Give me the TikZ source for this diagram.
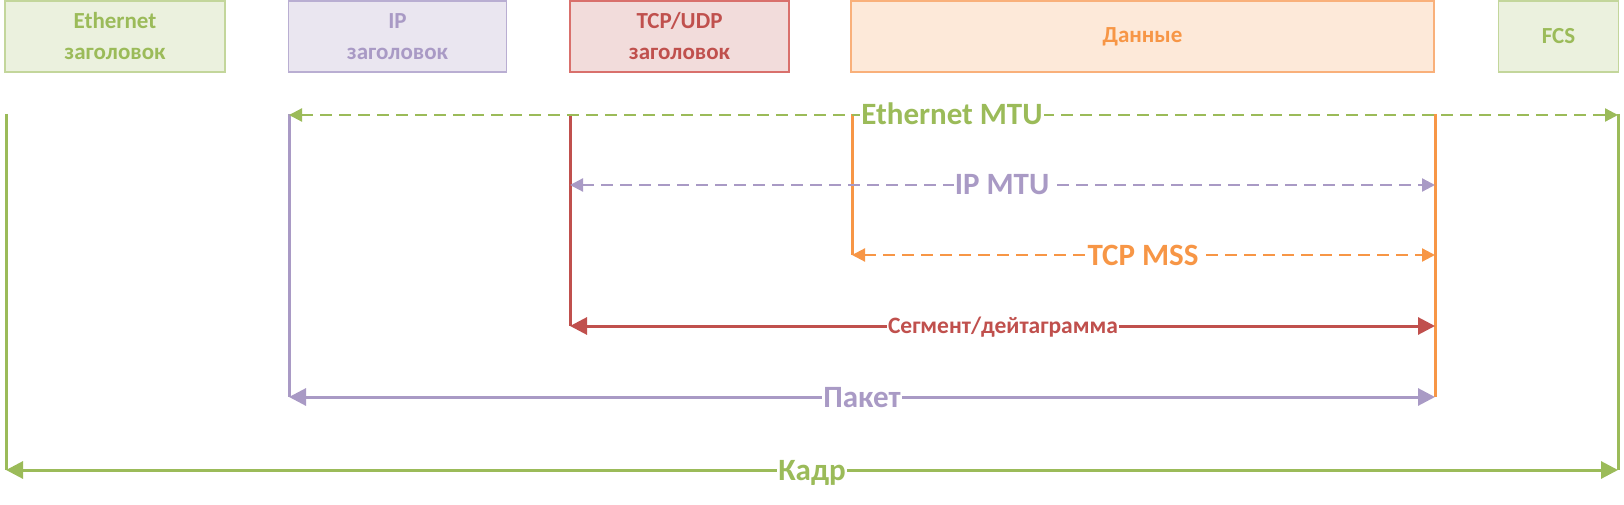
\documentclass[tikz,border=0pt]{standalone}
\usepackage{fontspec}
\setmainfont{Carlito}
\usetikzlibrary{arrows.meta}
\definecolor{cgreen}{HTML}{9BBB59}
\definecolor{cpurple}{HTML}{A99AC5}
\definecolor{cred}{HTML}{C0504D}
\definecolor{corange}{HTML}{F79646}
\definecolor{fgreen}{HTML}{EBF1DE}
\definecolor{fpurple}{HTML}{EAE6F0}
\definecolor{fred}{HTML}{F2DCDB}
\definecolor{forange}{HTML}{FDE9D9}
\definecolor{bgreen}{HTML}{C3D69B}
\definecolor{bpurple}{HTML}{B9AED2}
\definecolor{bred}{HTML}{D9706C}
\definecolor{borange}{HTML}{F9B07A}
\tikzset{
  hdrbox/.style={draw, line width=1.2pt, minimum height=71pt, inner sep=0pt, align=center,
    font=\fontsize{23}{31}\selectfont\bfseries},
  vline/.style={line width=3pt},
  solidarr/.style={line width=3pt, {Triangle[length=17pt,width=17pt]}-{Triangle[length=17pt,width=17pt]}},
  dasharr/.style={line width=2.2pt, dash pattern=on 12pt off 7pt, {Triangle[length=13pt,width=13pt]}-{Triangle[length=13pt,width=13pt]}},
  biglab/.style={fill=white, inner xsep=1pt, inner ysep=0pt, text height=20pt, text depth=0pt,
    font=\fontsize{31}{31}\selectfont\bfseries},
  smalllab/.style={fill=white, inner xsep=1pt, inner ysep=0pt, text height=15pt, text depth=0pt,
    font=\fontsize{23.5}{24}\selectfont\bfseries}
}
\begin{document}
\begin{tikzpicture}[x=1pt,y=-1pt]
\useasboundingbox (0,0) rectangle (1624,505);
% header boxes
\node[hdrbox, fill=fgreen, draw=bgreen, text=cgreen, minimum width=220pt] (eth) at (115,36.5) {Ethernet\\заголовок};
\node[hdrbox, fill=fpurple, draw=bpurple, text=cpurple, minimum width=218pt] (ip) at (397.5,36.5) {IP\\заголовок};
\node[hdrbox, fill=fred, draw=bred, text=cred, minimum width=219pt] (tcp) at (679.5,36.5) {TCP/UDP\\заголовок};
\node[hdrbox, fill=forange, draw=borange, text=corange, minimum width=583pt] (data) at (1142.5,36.5) {Данные};
\node[hdrbox, fill=fgreen, draw=bgreen, text=cgreen, minimum width=120pt] (fcs) at (1558.5,36.5) {FCS};
% vertical guide lines
\coordinate (gLt) at (6,114);   \coordinate (gLb) at (6,470);
\coordinate (pLt) at (289,114); \coordinate (pLb) at (289,397);
\coordinate (rLt) at (570,114); \coordinate (rLb) at (570,326);
\coordinate (oLt) at (852,114); \coordinate (oLb) at (852,255);
\coordinate (oRt) at (1435,114); \coordinate (oRb) at (1435,397);
\coordinate (gRt) at (1618,114); \coordinate (gRb) at (1618,470);
\draw[vline, cgreen] (gLt) -- (gLb);
\draw[vline, cpurple] (pLt) -- (pLb);
\draw[vline, cred] (rLt) -- (rLb);
\draw[vline, corange] (oLt) -- (oLb);
\draw[vline, corange] (oRt) -- (oRb);
\draw[vline, cgreen] (gRt) -- (gRb);
% arrow end points
\coordinate (ipm1) at (570,185); \coordinate (ipm2) at (1435,185);
\coordinate (seg1) at (570,326); \coordinate (seg2) at (1435,326);
\coordinate (mss1) at (852,255); \coordinate (mss2) at (1435,255);
\coordinate (pak1) at (289,397); \coordinate (pak2) at (1435,397);
\coordinate (kad1) at (6,470);   \coordinate (kad2) at (1618,470);
\coordinate (emt1) at (289,115); \coordinate (emt2) at (1618,115);
% arrows
\draw[dasharr, cgreen] (emt1) -- (emt2);
\draw[dasharr, cpurple] (ipm1) -- (ipm2);
\draw[dasharr, corange] (mss1) -- (mss2);
\draw[solidarr, cred] (seg1) -- (seg2);
\draw[solidarr, cpurple] (pak1) -- (pak2);
\draw[solidarr, cgreen] (kad1) -- (kad2);
% labels
\node[biglab, text=cgreen] (lemt) at (952,115) {Ethernet MTU};
\node[biglab, text=cpurple] (lipm) at (1002,185) {IP MTU};
\node[biglab, text=corange] (lmss) at (1143,255) {TCP MSS};
\node[smalllab, text=cred] (lseg) at (1003,326) {Сегмент/дейтаграмма};
\node[biglab, text=cpurple] (lpak) at (862,397) {Пакет};
\node[biglab, text=cgreen] (lkad) at (812,470) {Кадр};
\end{tikzpicture}
\end{document}
